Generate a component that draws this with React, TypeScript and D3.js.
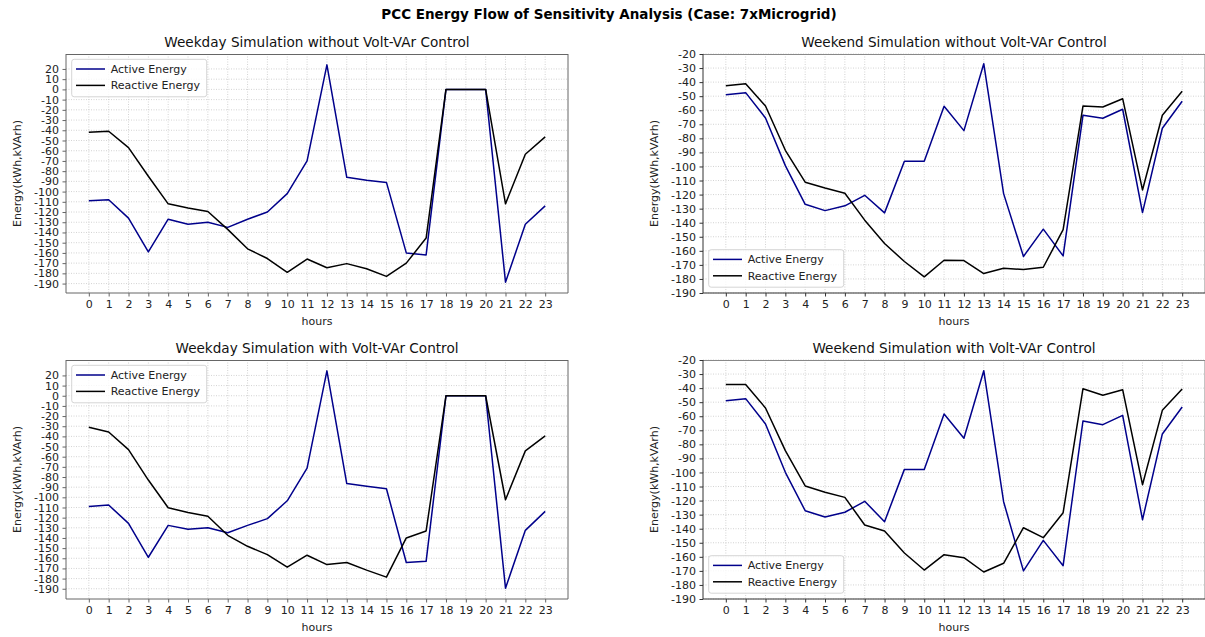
import * as d3 from 'd3';
import { useEffect, useRef } from 'react';

const hours = [0, 1, 2, 3, 4, 5, 6, 7, 8, 9, 10, 11, 12, 13, 14, 15, 16, 17, 18, 19, 20, 21, 22, 23];

// weekday, no volt-var
const wdActive = [-109, -108, -126, -159, -127, -132, -130, -135, -127, -120, -102, -70, 24, -86, -89, -91, -160, -162, 0, 0, 0, -188.6, -132, -114];
const wdReactive = [-42, -41, -57, -85, -112, -116, -119.5, -137, -156, -165.5, -179, -166, -174.5, -170.5, -175.5, -183, -170, -145.5, 0, 0, 0, -112, -63.5, -46.5];

// weekend, no volt-var
const weActive = [-48.9, -47.5, -65.5, -99.4, -126.9, -131.4, -128, -120.5, -133, -96.3, -96.3, -57.2, -74.5, -26.9, -119.3, -164, -144.6, -163.6, -63.6, -65.7, -59.3, -132.8, -72.8, -53.6];
const weReactive = [-42.5, -41.1, -57, -88.5, -111.2, -115.3, -119, -138.2, -154.8, -167.6, -178.5, -166.7, -166.9, -176.2, -172.4, -173.3, -171.7, -144.9, -57, -57.7, -51.8, -116.7, -63.6, -46.5];

// weekday, with volt-var
const wdActiveVvc = [-109, -107.6, -125.6, -159, -127.6, -131.5, -130, -134.8, -127.6, -121, -103.4, -71.3, 24.5, -86.4, -89, -91.6, -164.2, -163, 0, 0, 0, -189.4, -132.5, -113.8];
const wdReactiveVvc = [-31, -35.7, -53, -83, -110.2, -115, -118.7, -137.4, -148.2, -156.4, -168.8, -157, -166.2, -164.2, -171.7, -178.6, -140, -133.1, 0, 0, 0, -102.4, -54.3, -39.6];

// weekend, with volt-var
const weActiveVvc = [-48.9, -47.5, -65.5, -99.9, -127.2, -131.7, -128.3, -120.5, -135, -97.8, -97.8, -58.4, -75.7, -27.6, -120.8, -170, -148.3, -166.3, -63.4, -66, -59.4, -133.6, -72.6, -53.4];
const weReactiveVvc = [-37.5, -37.5, -54.1, -84.5, -109.6, -114.1, -117.7, -137.4, -141.6, -157.3, -169.4, -158.5, -160.6, -170.8, -164.6, -139.3, -146.4, -128.6, -40.4, -45.1, -41.1, -108.7, -55.8, -40.6];

const weekdayTicks = [20, 10, 0, -10, -20, -30, -40, -50, -60, -70, -80, -90, -100, -110, -120, -130, -140, -150, -160, -170, -180, -190];
const weekendTicks = [-20, -30, -40, -50, -60, -70, -80, -90, -100, -110, -120, -130, -140, -150, -160, -170, -180, -190];
const weekendRange = [-190, -20];

const seriesNames = ['Active Energy', 'Reactive Energy'];
const seriesColors = ['#00008b', '#000000'];
const panelTitles = [
  'Weekday Simulation without Volt-VAr Control',
  'Weekend Simulation without Volt-VAr Control',
  'Weekday Simulation with Volt-VAr Control',
  'Weekend Simulation with Volt-VAr Control',
];
const figTitle = 'PCC Energy Flow of Sensitivity Analysis (Case: 7xMicrogrid)';
const xLabel = 'hours';
const yLabel = 'Energy(kWh,kVArh)';

const FONT = 'DejaVu Sans, sans-serif';

export default function App() {
  const svgRef = useRef<SVGSVGElement>(null);

  useEffect(() => {
    if (!svgRef.current) return;
    const svg = d3.select(svgRef.current);

    const W = 502;
    const H = 239;

    const panels = [
      { title: panelTitles[0], series: [wdActive, wdReactive], ticks: weekdayTicks, fixed: null, legendTop: true, left: 66, top: 54, dark: false },
      { title: panelTitles[1], series: [weActive, weReactive], ticks: weekendTicks, fixed: weekendRange, legendTop: false, left: 703, top: 54, dark: true },
      { title: panelTitles[2], series: [wdActiveVvc, wdReactiveVvc], ticks: weekdayTicks, fixed: null, legendTop: true, left: 66, top: 360, dark: false },
      { title: panelTitles[3], series: [weActiveVvc, weReactiveVvc], ticks: weekendTicks, fixed: weekendRange, legendTop: false, left: 703, top: 360, dark: true },
    ];

    svg
      .append('text')
      .attr('x', 609)
      .attr('y', 19)
      .attr('text-anchor', 'middle')
      .attr('font-family', FONT)
      .attr('font-weight', 'bold')
      .attr('font-size', 13.5)
      .attr('fill', '#000')
      .text(figTitle);

    panels.forEach((p) => {
      const g = svg.append('g').attr('transform', `translate(${p.left},${p.top})`);

      const [hx0, hx1] = d3.extent(hours) as [number, number];
      const padX = (hx1 - hx0) * 0.05;
      const x = d3.scaleLinear().domain([hx0 - padX, hx1 + padX]).range([0, W]);

      let yDomain: number[];
      if (p.fixed) {
        yDomain = p.fixed;
      } else {
        const all = p.series.flat();
        const [lo, hi] = d3.extent(all) as [number, number];
        const pad = (hi - lo) * 0.05;
        yDomain = [lo - pad, hi + pad];
      }
      const y = d3.scaleLinear().domain(yDomain).range([H, 0]);

      // grid
      const grid = g.append('g');
      hours.forEach((h) => {
        grid
          .append('line')
          .attr('x1', x(h))
          .attr('x2', x(h))
          .attr('y1', 0)
          .attr('y2', H)
          .attr('stroke', '#c8c8c8')
          .attr('stroke-width', 0.8)
          .attr('stroke-dasharray', '1,1.5');
      });
      p.ticks.forEach((t) => {
        grid
          .append('line')
          .attr('x1', 0)
          .attr('x2', W)
          .attr('y1', y(t))
          .attr('y2', y(t))
          .attr('stroke', '#c8c8c8')
          .attr('stroke-width', 0.8)
          .attr('stroke-dasharray', '1,1.5');
      });

      // lines
      const ln = d3
        .line<number>()
        .x((_, i) => x(hours[i]))
        .y((d) => y(d));
      p.series.forEach((s, i) => {
        g.append('path')
          .datum(s)
          .attr('fill', 'none')
          .attr('stroke', seriesColors[i])
          .attr('stroke-width', 1.5)
          .attr('stroke-linejoin', 'round')
          .attr('d', ln);
      });

      // spines
      const sideColor = p.dark ? '#333' : '#666';
      const topColor = p.dark ? '#888' : '#666';
      g.append('line').attr('x1', 0).attr('x2', W).attr('y1', 0.5).attr('y2', 0.5).attr('stroke', topColor);
      g.append('line').attr('x1', W).attr('x2', W).attr('y1', 0).attr('y2', H).attr('stroke', topColor);
      g.append('line').attr('x1', 0).attr('x2', W).attr('y1', H).attr('y2', H).attr('stroke', sideColor);
      g.append('line').attr('x1', 0).attr('x2', 0).attr('y1', 0).attr('y2', H).attr('stroke', sideColor);

      // axes
      const xAxis = g
        .append('g')
        .attr('transform', `translate(0,${H})`)
        .call(
          d3
            .axisBottom(x)
            .tickValues(hours)
            .tickSize(3.5)
            .tickPadding(3.5)
            .tickFormat((d) => String(d)),
        );
      const yAxis = g.append('g').call(
        d3
          .axisLeft(y)
          .tickValues(p.ticks)
          .tickSize(3.5)
          .tickPadding(3.5)
          .tickFormat((d) => String(d)),
      );
      [xAxis, yAxis].forEach((a) => {
        a.select('.domain').remove();
        a.attr('font-family', FONT).attr('font-size', 11);
        a.selectAll('.tick line').attr('stroke', sideColor);
        a.selectAll('.tick text').attr('fill', '#222');
      });

      // titles and labels
      g.append('text')
        .attr('x', W / 2)
        .attr('y', -7)
        .attr('text-anchor', 'middle')
        .attr('font-family', FONT)
        .attr('font-size', 13.6)
        .attr('fill', '#111')
        .text(p.title);
      g.append('text')
        .attr('x', W / 2)
        .attr('y', H + 32)
        .attr('text-anchor', 'middle')
        .attr('font-family', FONT)
        .attr('font-size', 11)
        .attr('fill', '#222')
        .text(xLabel);
      g.append('text')
        .attr('transform', `translate(-45,${H / 2}) rotate(-90)`)
        .attr('text-anchor', 'middle')
        .attr('font-family', FONT)
        .attr('font-size', 11)
        .attr('fill', '#222')
        .text(yLabel);

      // legend
      const lw = 135;
      const lh = 37.5;
      const lx = 5.7;
      const ly = p.legendTop ? 5.3 : H - 5.8 - lh;
      const lg = g.append('g').attr('transform', `translate(${lx},${ly})`);
      lg.append('rect')
        .attr('width', lw)
        .attr('height', lh)
        .attr('rx', 2.5)
        .attr('fill', 'white')
        .attr('fill-opacity', 0.8)
        .attr('stroke', '#d5d5d5')
        .attr('stroke-width', 1);
      seriesNames.forEach((name, i) => {
        const yy = 9.7 + i * 16.4;
        lg.append('line')
          .attr('x1', 4.3)
          .attr('x2', 33.3)
          .attr('y1', yy)
          .attr('y2', yy)
          .attr('stroke', seriesColors[i])
          .attr('stroke-width', 1.5);
        lg.append('text')
          .attr('x', 39)
          .attr('y', yy + 4)
          .attr('font-family', FONT)
          .attr('font-size', 11)
          .attr('fill', '#222')
          .text(name);
      });
    });

    return () => {
      svg.selectAll('*').remove();
    };
  }, []);

  return (
    <svg
      ref={svgRef}
      width={1205}
      height={637}
      style={{ position: 'absolute', left: 0, top: 0, background: 'white' }}
    />
  );
}
